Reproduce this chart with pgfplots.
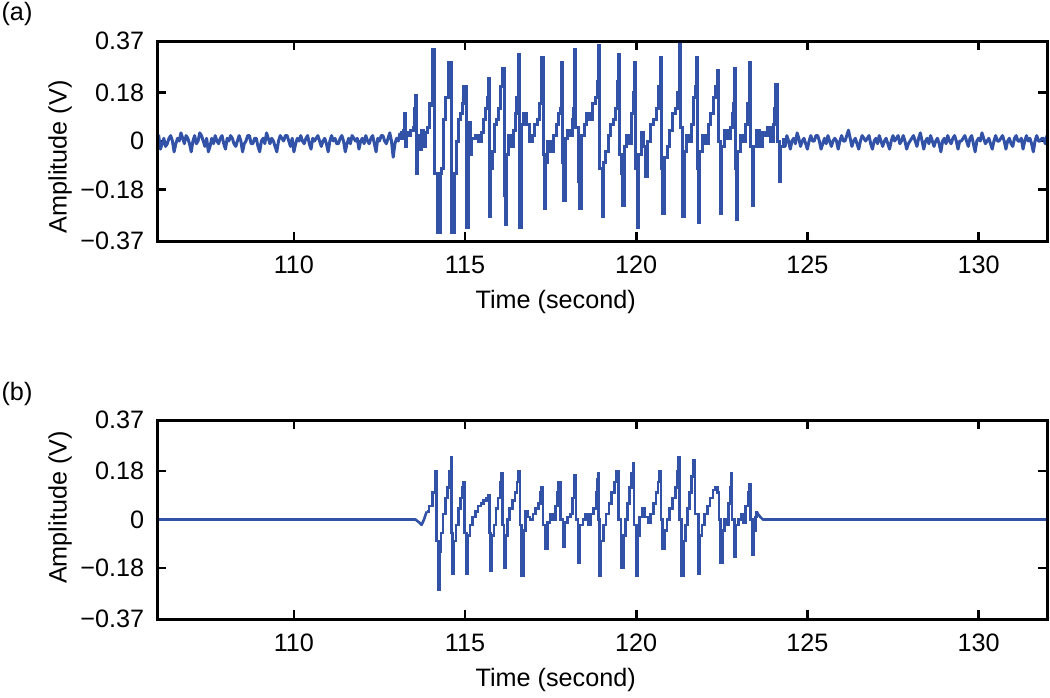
\documentclass[border=0pt]{standalone}
\usepackage{pgfplots}
\pgfplotsset{compat=1.18}
\usepackage{fontspec}
\setmainfont{Liberation Sans}
\definecolor{sig}{RGB}{50,82,168}
\newcommand{\fs}{\fontsize{12.6}{15}\selectfont}
\pgfplotsset{myax/.style={
  scale only axis, width=445pt,
  xmin=106, xmax=132, ymin=-0.37, ymax=0.37,
  xtick={110,115,120,125,130}, xticklabels={110,115,120,125,130},
  ytick={-0.37,-0.18,0,0.18,0.37}, yticklabels={−0.37,−0.18,0,0.18,0.37},
  tick align=inside, major tick length=4.5pt,
  axis line style={line width=1.5pt},
  major tick style={line width=1.3pt, black},
  /pgf/number format/assume math mode=true,
  tick label style={font=\fs},
  xticklabel style={yshift=-3pt}, yticklabel style={xshift=-2pt},
  xlabel={Time (second)},
  xlabel style={at={(axis description cs:0.448,0)}, anchor=center, yshift=-30.5pt, font=\fs},
  after end axis/.code={\draw[line width=1.5pt, black] (rel axis cs:0,0) rectangle (rel axis cs:1,1);},
}}
\begin{document}
\fs
\begin{tikzpicture}
\begin{axis}[myax, height=100pt, at={(78.5pt,-20.5pt)}, anchor=north west]
\addplot[sig, line width=1.5pt, line join=round] coordinates {
(106.00,0.00)(106.05,0.02)(106.10,-0.03)(106.15,-0.01)(106.20,0.01)(106.25,-0.02)(106.30,-0.01)(106.35,0.01)(106.40,0.02)(106.45,0.00)
(106.50,-0.04)(106.55,-0.01)(106.60,0.01)(106.65,0.00)(106.70,0.03)(106.75,0.01)(106.80,-0.01)(106.85,0.02)(106.90,0.01)(106.95,-0.01)
(107.00,-0.04)(107.05,0.00)(107.10,0.02)(107.15,-0.01)(107.20,0.00)(107.25,0.03)(107.30,0.02)(107.35,0.00)(107.40,-0.02)(107.45,0.01)
(107.50,-0.04)(107.55,-0.02)(107.60,0.01)(107.65,-0.01)(107.70,0.02)(107.75,0.00)(107.80,-0.01)(107.85,0.01)(107.90,0.02)(107.95,-0.01)
(108.00,-0.03)(108.05,0.01)(108.10,0.00)(108.15,0.02)(108.20,0.01)(108.25,-0.01)(108.30,-0.02)(108.35,0.00)(108.40,0.02)(108.45,0.00)
(108.50,-0.04)(108.55,-0.01)(108.60,0.00)(108.65,0.02)(108.70,0.02)(108.75,-0.01)(108.80,-0.01)(108.85,0.01)(108.90,0.01)(108.95,-0.02)
(109.00,-0.04)(109.05,0.00)(109.10,0.01)(109.15,-0.01)(109.20,0.03)(109.25,0.01)(109.30,-0.01)(109.35,0.01)(109.40,0.00)(109.45,-0.02)
(109.50,-0.04)(109.55,0.00)(109.60,0.02)(109.65,0.01)(109.70,0.00)(109.75,0.02)(109.80,0.02)(109.85,0.00)(109.90,-0.02)(109.95,0.01)
(110.00,-0.04)(110.05,-0.01)(110.10,0.01)(110.15,0.00)(110.20,0.02)(110.25,0.00)(110.30,-0.01)(110.35,0.01)(110.40,0.02)(110.45,-0.01)
(110.50,-0.03)(110.55,0.01)(110.60,0.00)(110.65,0.01)(110.70,0.02)(110.75,0.00)(110.80,-0.02)(110.85,0.00)(110.90,0.01)(110.95,-0.01)
(111.00,-0.04)(111.05,0.00)(111.10,0.02)(111.15,0.00)(111.20,0.01)(111.25,-0.01)(111.30,-0.01)(111.35,0.01)(111.40,0.02)(111.45,0.00)
(111.50,-0.04)(111.55,-0.01)(111.60,0.01)(111.65,-0.01)(111.70,0.02)(111.75,0.01)(111.80,0.00)(111.85,0.01)(111.90,-0.03)(111.95,0.00)
(112.00,0.01)(112.05,-0.01)(112.10,0.02)(112.15,0.00)(112.20,-0.01)(112.25,0.01)(112.30,0.02)(112.35,-0.01)(112.40,-0.04)(112.45,0.01)
(112.50,0.00)(112.55,0.02)(112.60,0.02)(112.65,0.00)(112.70,-0.01)(112.75,0.01)(112.80,0.03)(112.85,0.00)(112.90,-0.06)(112.95,-0.01)
(113.00,0.01)(113.05,0.00)(113.10,0.03)
};
\addplot[sig, line width=1.5pt, const plot] coordinates {
(113.1,0.03)
(113.15,0.01)(113.20,0.04)(113.24,0.10)(113.26,-0.02)(113.30,0.03)(113.36,0.02)(113.42,0.04)(113.48,0.05)(113.53,0.12)(113.56,0.17)
(113.58,-0.12)(113.62,0.02)(113.66,-0.03)(113.72,0.04)(113.78,-0.02)(113.84,0.03)(113.90,0.05)(113.96,0.14)(114.00,0.13)(114.05,0.34)
(114.08,0.34)(114.12,-0.12)(114.20,-0.34)(114.23,-0.34)(114.27,-0.12)(114.32,-0.10)(114.38,0.08)(114.44,0.16)(114.48,0.16)(114.52,0.29)
(114.55,0.29)(114.60,-0.34)(114.64,-0.34)(114.68,-0.12)(114.74,0.00)(114.80,0.08)(114.86,0.10)(114.92,0.14)(114.96,0.20)(114.99,0.20)
(115.05,-0.32)(115.07,-0.32)(115.11,0.07)(115.16,-0.05)(115.20,0.01)(115.30,0.02)(115.40,0.00)(115.48,0.03)(115.54,0.08)(115.60,0.12)
(115.66,0.16)(115.69,0.23)(115.71,-0.28)(115.74,-0.10)(115.80,-0.04)(115.86,0.06)(115.92,0.08)(115.98,0.12)(116.04,0.20)(116.08,0.27)
(116.14,-0.20)(116.18,-0.31)(116.22,-0.05)(116.28,0.02)(116.34,-0.02)(116.40,0.04)(116.46,0.10)(116.51,0.16)(116.55,0.32)(116.60,-0.32)
(116.62,-0.32)(116.66,0.06)(116.72,0.10)(116.80,0.06)(116.88,0.00)(116.96,0.02)(117.04,0.06)(117.12,0.08)(117.18,0.14)(117.23,0.31)
(117.28,-0.05)(117.32,-0.25)(117.36,-0.08)(117.42,0.00)(117.50,-0.04)(117.58,0.02)(117.66,0.06)(117.72,0.10)(117.78,0.12)(117.81,0.29)
(117.84,-0.08)(117.87,-0.22)(117.92,0.01)(118.00,0.04)(118.08,0.02)(118.14,0.08)(118.18,0.12)(118.20,0.34)(118.24,0.05)(118.30,-0.15)
(118.35,-0.25)(118.40,0.02)(118.48,0.06)(118.56,0.10)(118.64,0.08)(118.72,0.14)(118.80,0.16)(118.86,0.22)(118.89,0.355)(118.92,-0.10)
(119.00,-0.28)(119.04,-0.08)(119.10,-0.04)(119.18,0.02)(119.26,0.06)(119.34,0.08)(119.40,0.12)(119.44,0.22)(119.47,0.32)(119.52,-0.05)
(119.58,-0.12)(119.61,-0.24)(119.66,-0.02)(119.72,0.02)(119.80,-0.01)(119.86,0.10)(119.91,0.18)(119.94,0.29)(119.98,-0.10)(120.03,-0.32)
(120.07,-0.05)(120.14,0.03)(120.22,-0.02)(120.28,-0.13)(120.34,0.00)(120.42,0.06)(120.50,0.08)(120.58,0.12)(120.64,0.20)(120.70,0.31)
(120.74,-0.10)(120.78,-0.27)(120.82,-0.06)(120.90,-0.02)(120.98,0.04)(121.06,0.10)(121.14,0.12)(121.20,0.18)(121.26,0.37)(121.30,0.05)
(121.36,-0.28)(121.40,-0.04)(121.46,0.02)(121.54,0.00)(121.62,0.06)(121.68,0.16)(121.72,0.20)(121.75,0.31)(121.78,-0.10)(121.81,-0.30)
(121.86,-0.04)(121.94,0.02)(122.02,-0.01)(122.10,0.06)(122.18,0.10)(122.26,0.16)(122.32,0.20)(122.38,0.26)(122.41,0.00)(122.45,-0.27)
(122.50,-0.02)(122.58,0.04)(122.66,0.01)(122.74,0.05)(122.80,0.10)(122.84,0.14)(122.87,0.27)(122.89,-0.10)(122.92,-0.29)(122.96,-0.04)
(123.04,0.02)(123.12,0.00)(123.20,0.06)(123.26,0.14)(123.30,0.29)(123.34,-0.02)(123.40,-0.24)(123.44,-0.02)(123.52,0.04)(123.60,-0.02)
(123.68,0.03)(123.76,0.02)(123.84,0.05)(123.92,0.00)(124.00,0.06)(124.05,0.12)(124.08,0.21)(124.12,0.00)(124.18,-0.15)(124.22,-0.02)
(124.30,0.01)
};
\addplot[sig, line width=1.5pt, line join=round] coordinates {
(124.30,0.01)(124.35,-0.02)(124.40,0.02)(124.45,0.00)(124.50,-0.03)(124.55,0.00)(124.60,0.01)(124.65,-0.01)(124.70,0.03)(124.75,0.01)
(124.80,-0.02)(124.85,0.00)(124.90,0.01)(124.95,-0.01)
(125.00,-0.03)(125.05,0.00)(125.10,0.02)(125.15,0.00)(125.20,0.00)(125.25,0.02)(125.30,0.02)(125.35,0.00)(125.40,-0.03)(125.45,-0.01)
(125.50,0.01)(125.55,-0.01)(125.60,0.02)(125.65,0.00)(125.70,-0.02)(125.75,0.00)(125.80,0.01)(125.85,0.00)(125.90,-0.03)(125.95,0.00)
(126.00,0.02)(126.05,0.00)(126.10,0.00)(126.15,0.02)(126.20,0.04)(126.25,0.01)(126.30,-0.02)(126.35,0.00)(126.40,0.01)(126.45,-0.01)
(126.50,-0.03)(126.55,0.00)(126.60,0.02)(126.65,0.01)(126.70,0.00)(126.75,0.01)(126.80,0.02)(126.85,-0.01)(126.90,-0.03)(126.95,0.00)
(127.00,0.01)(127.05,-0.01)(127.10,0.02)(127.15,0.00)(127.20,-0.02)(127.25,0.00)(127.30,0.01)(127.35,-0.01)(127.40,-0.03)(127.45,0.00)
(127.50,0.02)(127.55,0.00)(127.60,0.01)(127.65,0.02)(127.70,-0.01)(127.75,0.00)(127.80,0.02)(127.85,0.00)(127.90,-0.03)(127.95,-0.01)
(128.00,0.00)(128.05,0.01)(128.10,0.02)(128.15,0.00)(128.20,-0.02)(128.25,0.01)(128.30,0.03)(128.35,0.00)(128.40,-0.03)(128.45,0.00)
(128.50,0.01)(128.55,-0.01)(128.60,0.02)(128.65,0.00)(128.70,-0.02)(128.75,0.00)(128.80,0.01)(128.85,-0.01)(128.90,-0.04)(128.95,0.00)
(129.00,0.01)(129.05,-0.01)(129.10,0.02)(129.15,0.00)(129.20,-0.01)(129.25,0.01)(129.30,0.02)(129.35,0.00)(129.40,-0.03)(129.45,0.00)
(129.50,0.00)(129.55,0.01)(129.60,0.02)(129.65,0.00)(129.70,-0.02)(129.75,0.01)(129.80,0.02)(129.85,-0.01)(129.90,-0.04)(129.95,0.00)
(130.00,0.01)(130.05,0.00)(130.10,0.03)(130.15,0.01)(130.20,-0.01)(130.25,0.00)(130.30,0.01)(130.35,-0.01)(130.40,-0.03)(130.45,0.00)
(130.50,0.02)(130.55,0.00)(130.60,0.00)(130.65,0.01)(130.70,0.02)(130.75,0.00)(130.80,-0.03)(130.85,0.00)(130.90,0.01)(130.95,-0.01)
(131.00,-0.02)(131.05,0.01)(131.10,0.02)(131.15,0.00)(131.20,0.00)(131.25,0.01)(131.30,-0.03)(131.35,0.00)(131.40,0.02)(131.45,0.00)
(131.50,0.01)(131.55,-0.01)(131.60,-0.04)(131.65,0.00)(131.70,0.02)(131.75,0.00)(131.80,0.00)(131.85,0.01)(131.90,0.01)(131.95,-0.01)
(132.00,0.02)
};
\end{axis}
\begin{axis}[myax, height=99.5pt, at={(78.5pt,-210pt)}, anchor=north west]
\addplot[sig, line width=1.3pt, line join=round] coordinates {
(106.0,0)(113.55,0)(113.65,-0.01)(113.73,-0.02)(113.80,0.00)(113.88,0.03)
};
\addplot[sig, line width=1.3pt, const plot] coordinates {
(113.88,0.03)(113.95,0.05)(114.05,0.10)(114.12,0.18)(114.15,0.18)
(114.17,-0.08)(114.23,-0.26)(114.26,-0.12)(114.30,-0.05)(114.36,0.02)(114.42,0.08)(114.48,0.12)(114.54,0.18)(114.59,0.23)(114.61,-0.05)
(114.64,-0.20)(114.68,-0.08)(114.74,-0.02)(114.80,0.04)(114.86,0.08)(114.92,0.12)(114.95,0.14)(114.98,-0.05)(115.04,-0.20)(115.08,-0.06)
(115.14,-0.02)(115.22,0.01)(115.30,0.03)(115.38,0.05)(115.46,0.06)(115.54,0.07)(115.62,0.08)(115.68,0.09)(115.72,-0.05)(115.74,-0.19)
(115.78,-0.06)(115.84,-0.02)(115.90,0.04)(115.96,0.08)(116.02,0.14)(116.06,0.17)(116.10,-0.02)(116.14,-0.18)(116.18,-0.06)(116.24,0.00)
(116.30,0.04)(116.38,0.07)(116.46,0.10)(116.52,0.14)(116.55,0.18)(116.60,-0.02)(116.65,-0.21)(116.70,-0.04)(116.76,0.03)(116.82,0.01)
(116.90,0.00)(116.98,0.02)(117.06,0.04)(117.14,0.06)(117.20,0.10)(117.23,0.12)(117.28,-0.02)(117.35,-0.11)(117.40,-0.01)(117.48,0.02)
(117.56,0.00)(117.64,0.05)(117.70,0.10)(117.72,0.14)(117.78,0.00)(117.86,-0.10)(117.92,-0.01)(118.00,0.01)(118.08,0.02)(118.14,0.08)
(118.18,0.13)(118.20,0.165)(118.24,0.00)(118.30,-0.16)(118.36,-0.02)(118.44,0.00)(118.52,0.02)(118.60,-0.02)(118.68,0.02)(118.76,0.04)
(118.82,0.10)(118.86,0.15)(118.88,0.17)(118.90,0.00)(118.93,-0.21)(118.97,-0.08)(119.04,-0.02)(119.12,0.02)(119.20,0.06)(119.28,0.10)
(119.36,0.14)(119.42,0.18)(119.48,0.00)(119.56,-0.18)(119.62,-0.06)(119.68,0.00)(119.74,0.06)(119.80,0.12)(119.86,0.17)(119.90,0.21)
(119.94,-0.02)(120.00,-0.21)(120.04,-0.06)(120.10,0.01)(120.18,0.04)(120.26,0.01)(120.34,-0.01)(120.42,0.02)(120.50,0.06)(120.58,0.10)
(120.64,0.14)(120.68,0.18)(120.72,0.00)(120.76,-0.11)(120.82,-0.04)(120.90,0.00)(120.98,0.04)(121.06,0.08)(121.14,0.12)(121.20,0.18)
(121.23,0.23)(121.27,0.00)(121.33,-0.21)(121.38,-0.08)(121.44,-0.02)(121.50,0.04)(121.56,0.10)(121.62,0.16)(121.68,0.22)(121.72,0.02)
(121.82,-0.20)(121.86,-0.06)(121.92,-0.02)(122.00,0.02)(122.08,0.05)(122.16,0.08)(122.24,0.11)(122.30,0.12)(122.33,0.12)(122.38,0.10)
(122.42,0.00)(122.47,-0.16)(122.52,-0.04)(122.58,0.00)(122.64,-0.02)(122.70,0.06)(122.74,0.12)(122.77,0.17)(122.80,0.00)(122.87,-0.14)
(122.92,-0.02)(122.98,0.00)(123.06,0.02)(123.14,-0.01)(123.20,0.05)(123.26,0.10)(123.30,0.13)(123.34,0.00)(123.40,-0.13)(123.44,-0.04)
(123.48,0.01)(123.52,0.03)
};
\addplot[sig, line width=1.3pt, line join=round] coordinates {
(123.52,0.03)(123.56,0.02)(123.62,0.01)(123.70,0.00)(132.0,0.00)
};
\end{axis}
\node at (8.5pt,-7pt) {(a)};
\node at (8.5pt,-197pt) {(b)};
\node[rotate=90] at (30pt,-78.35pt) {Amplitude (V)};
\node[rotate=90] at (30pt,-253.75pt) {Amplitude (V)};
\pgfresetboundingbox
\path[use as bounding box] (0,0) rectangle (525pt,-348.5pt);
\end{tikzpicture}
\end{document}
